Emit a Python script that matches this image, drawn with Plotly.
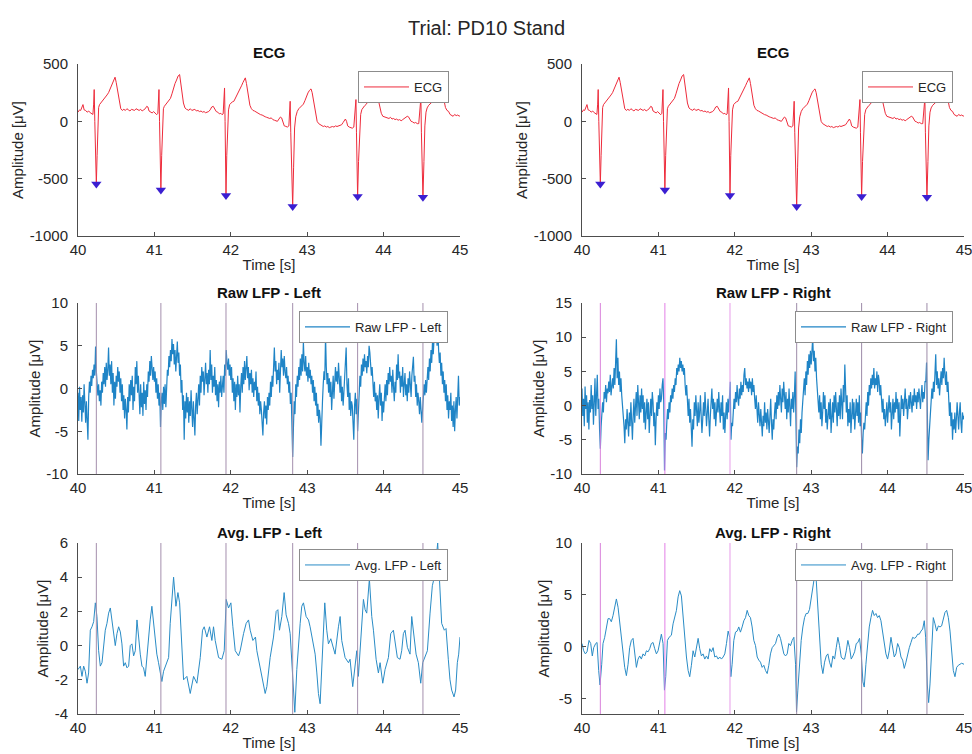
import numpy as np
import plotly.graph_objects as go

# ---------------------------------------------------------------- data
FIG_TITLE = "Trial: PD10 Stand"
X_TICKS = [40, 41, 42, 43, 44, 45]

# ECG (µV), shared by both ECG panels
ecg_t = [
    40.000, 40.020, 40.035, 40.050, 40.065, 40.080, 40.100, 40.120, 40.140, 40.160,
    40.180, 40.195, 40.205, 40.212, 40.220, 40.232, 40.240, 40.250, 40.258, 40.270,
    40.282, 40.300, 40.320, 40.340, 40.360, 40.380, 40.400, 40.420, 40.440, 40.460,
    40.475, 40.485, 40.500, 40.515, 40.530, 40.545, 40.560, 40.580, 40.600, 40.620,
    40.640, 40.660, 40.680, 40.700, 40.720, 40.740, 40.760, 40.780, 40.800, 40.820,
    40.840, 40.860, 40.880, 40.900, 40.915, 40.930, 40.950, 40.970, 40.990, 41.010,
    41.030, 41.045, 41.055, 41.060, 41.067, 41.075, 41.085, 41.095, 41.105, 41.118,
    41.130, 41.150, 41.170, 41.190, 41.210, 41.230, 41.250, 41.270, 41.290, 41.310,
    41.330, 41.345, 41.360, 41.380, 41.400, 41.420, 41.450, 41.470, 41.490, 41.510,
    41.530, 41.550, 41.570, 41.590, 41.610, 41.630, 41.650, 41.670, 41.690, 41.710,
    41.730, 41.750, 41.770, 41.790, 41.810, 41.830, 41.850, 41.870, 41.885, 41.900,
    41.910, 41.918, 41.925, 41.930, 41.937, 41.947, 41.958, 41.970, 41.985, 42.000,
    42.020, 42.040, 42.060, 42.080, 42.100, 42.120, 42.140, 42.160, 42.180, 42.190,
    42.205, 42.220, 42.235, 42.250, 42.270, 42.290, 42.310, 42.330, 42.350, 42.370,
    42.390, 42.410, 42.430, 42.450, 42.470, 42.490, 42.510, 42.530, 42.550, 42.570,
    42.590, 42.610, 42.630, 42.650, 42.665, 42.680, 42.700, 42.720, 42.740, 42.760,
    42.770, 42.777, 42.785, 42.795, 42.810, 42.822, 42.835, 42.850, 42.870, 42.890,
    42.910, 42.930, 42.950, 42.970, 42.990, 43.010, 43.030, 43.050, 43.065, 43.080,
    43.100, 43.120, 43.130, 43.150, 43.170, 43.190, 43.210, 43.230, 43.250, 43.270,
    43.290, 43.310, 43.330, 43.350, 43.370, 43.390, 43.410, 43.430, 43.450, 43.470,
    43.490, 43.500, 43.515, 43.530, 43.550, 43.570, 43.590, 43.610, 43.625, 43.638,
    43.645, 43.652, 43.660, 43.672, 43.685, 43.700, 43.715, 43.730, 43.750, 43.770,
    43.790, 43.810, 43.830, 43.850, 43.870, 43.890, 43.910, 43.930, 43.950, 43.970,
    43.990, 44.010, 44.030, 44.050, 44.070, 44.090, 44.110, 44.130, 44.150, 44.170,
    44.190, 44.210, 44.230, 44.250, 44.270, 44.290, 44.310, 44.325, 44.340, 44.360,
    44.380, 44.400, 44.420, 44.440, 44.460, 44.475, 44.488, 44.495, 44.502, 44.515,
    44.528, 44.540, 44.555, 44.570, 44.590, 44.610, 44.630, 44.650, 44.670, 44.690,
    44.710, 44.730, 44.750, 44.760, 44.775, 44.790, 44.810, 44.830, 44.850, 44.870,
    44.890, 44.910, 44.930, 44.950, 44.970, 44.990, 45.000,
]
ecg_v = [
    80, 100, 95, 130, 146, 100, 95, 80, 90, 75,
    70, 60, 150, 277, 0, -400, -546, -300, -44, 120,
    146, 160, 180, 195, 210, 230, 250, 280, 320, 350,
    375, 385, 340, 280, 200, 140, 110, 95, 105, 95,
    110, 100, 90, 105, 100, 95, 110, 100, 95, 105,
    90, 100, 110, 131, 125, 90, 80, 73, 85, 70,
    58, 70, 200, 277, 0, -400, -598, -300, -44, 110,
    131, 150, 170, 185, 200, 240, 290, 330, 360, 395,
    408, 330, 260, 160, 117, 105, 96, 110, 95, 100,
    105, 90, 95, 85, 90, 80, 85, 75, 80, 85,
    100, 125, 131, 110, 85, 80, 65, 70, 58, 65,
    200, 291, 0, -450, -647, -300, -44, 100, 146, 160,
    170, 175, 200, 225, 250, 277, 310, 340, 370, 379,
    330, 270, 200, 140, 110, 95, 90, 80, 70, 65,
    58, 55, 45, 40, 35, 30, 25, 30, 15, 10,
    5, 0, 20, 38, 30, -10, -40, -44, -50, -40,
    80, 175, -100, -450, -743, -400, -58, 40, 87, 110,
    125, 131, 150, 180, 220, 248, 270, 283, 250, 190,
    100, 20, 0, -20, -29, -40, -45, -40, -50, -45,
    -55, -50, -45, -50, -40, -45, -40, -35, -30, -10,
    15, 20, 0, -40, -50, -58, -60, -50, 60, 190,
    -100, -450, -656, -350, -60, 60, 102, 120, 135, 146,
    170, 195, 215, 230, 245, 262, 250, 190, 120, 70,
    44, 40, 35, 30, 25, 35, 20, 25, 15, 20,
    10, 15, 5, 15, 25, 30, 44, 40, 20, 0,
    -5, -15, -10, -20, -20, 80, 204, -100, -450, -662,
    -350, -40, 80, 117, 140, 155, 165, 175, 190, 210,
    235, 260, 280, 283, 240, 170, 120, 95, 87, 60,
    55, 44, 60, 50, 55, 45, 50,
]

# detected R peaks (time in s, ECG trough in µV)
r_peak_t = [40.240, 41.085, 41.937, 42.810, 43.660, 44.515]
r_peak_v = [-546, -598, -647, -743, -656, -662]

# raw LFP, sampled every 10 ms from 40.00 s to 45.00 s (µV)
raw_left = [
    -0.5, -3.8, 0.2, -2.5, -1.0, -3.9, -0.8, -2.8, 0.5, -2.2,
    -4.0, -1.5, -3.2, -6.0, -1.0, 0.8, -0.5, 1.5, 0.3, 2.2,
    1.2, 2.8, 1.5, 4.9, 2.0, 0.2, -0.8, 0.5, -1.5, -0.2,
    -2.0, 0.8, -0.5, 1.8, 0.5, 2.5, 0.2, 3.0, 1.0, 2.2,
    4.8, 1.5, 2.8, 0.5, 3.2, -0.5, 1.8, -2.0, 0.8, -1.2,
    1.5, 0.2, 2.5, 0.8, 2.0, -0.5, 1.2, -1.5, 0.5, -2.5,
    -0.8, -3.5, -1.2, -2.5, -4.8, -1.0, -2.8, 0.5, -1.5, 1.0,
    -0.8, 1.5, -2.5, 0.2, -1.5, 2.5, 0.5, 3.2, -0.5, 1.5,
    -1.0, -3.0, 0.5, -2.2, -0.5, -3.2, 0.8, -1.8, -0.2, -2.5,
    0.5, -1.0, 2.0, 0.8, 3.2, 1.5, 3.8, 2.2, 1.0, 2.5,
    0.8, 2.0, -0.5, 1.2, -1.2, 0.5, -2.0, -0.5, -4.5, -1.5,
    -0.5, -2.5, 0.2, -1.8, 0.5, -2.2, 0.8, 2.2, 1.5, 3.8,
    2.5, 4.5, 3.2, 5.8, 4.0, 5.2, 2.8, 4.5, 2.0, 3.5,
    5.5, 3.0, 4.2, 1.5, 2.8, -0.5, 1.0, -2.5, -0.8, -6.0,
    -1.5, -3.5, -0.5, -2.8, -1.0, -4.0, -1.5, -3.2, -0.2, -2.5,
    -4.5, -1.5, -3.0, -5.5, -2.0, -0.5, -3.0, -1.2, 0.5, -2.0,
    1.5, -0.5, 2.5, 0.8, 2.0, -0.8, 1.2, 3.0, 0.5, 1.8,
    -0.5, 2.2, 0.5, 4.5, 1.0, 2.8, -0.5, 1.5, 0.2, 2.5,
    -0.8, 1.0, -1.5, 0.5, -2.2, 0.8, -0.5, 1.5, -1.0, 0.2,
    1.5, -0.5, 2.8, 1.5, 4.5, 3.0, 2.2, 3.5, 1.5, 2.8,
    1.0, 2.5, -0.5, 1.2, -1.5, 0.8, -2.5, 0.5, -1.0, 1.5,
    -0.8, 0.5, -2.8, 0.2, 1.8, -0.5, 2.5, 0.5, 3.2, 1.0,
    2.0, 3.8, 1.2, 2.5, -0.2, 1.8, 0.5, 2.2, -0.5, 1.2,
    -1.0, 0.8, -0.2, 2.0, -1.5, 0.2, -2.0, -0.5, -3.0, -1.5,
    -2.5, -4.0, -5.5, -2.8, -1.5, -3.5, -2.0, -4.2, -1.0, -2.5,
    -0.5, -2.0, 0.8, -1.0, 1.5, 0.2, 2.5, 4.8, 2.0, 3.2,
    0.5, 2.2, 1.0, 3.0, -0.5, 2.0, 4.5, 2.5, 3.5, 1.5,
    3.8, 2.0, 1.2, 2.5, 0.5, 1.5, -0.5, 0.8, -1.8, -0.5,
    -3.5, -8.0, -4.5, -1.5, -3.0, 0.5, -1.0, 1.5, 0.2, 2.5,
    1.0, 3.5, 1.5, 4.0, 2.0, 5.5, 3.0, 2.0, 3.8, 1.5,
    2.5, 0.8, 3.0, 1.2, 2.2, 0.5, 1.5, -0.5, 1.0, -1.5,
    0.2, -2.0, -0.5, -3.2, -1.8, -4.0, -2.5, -3.5, -6.7, -3.0,
    -1.5, 0.5, 2.0, 1.0, 6.2, 2.5, 0.5, 1.8, -0.5, 1.2,
    -1.0, 0.8, -2.5, -0.5, 1.5, -1.2, 0.5, 2.5, 0.8, 2.0,
    0.5, 3.0, 1.2, -0.5, 1.5, -1.5, 0.2, -2.0, -0.5, 1.0,
    2.5, 4.8, 0.5, -1.0, 1.2, -2.5, -0.5, -3.2, -1.5, -2.0,
    -4.0, -6.0, -2.0, -0.5, -3.0, -1.2, -5.0, -2.2, 0.5, 1.5,
    0.2, 2.8, 1.5, 3.5, 2.0, 4.0, 2.5, 3.2, 1.8, 3.8,
    2.5, 5.0, 4.2, 3.0, 1.5, 2.5, 0.5, -1.0, 0.8, -1.5,
    -0.5, -2.5, -0.8, -3.5, -1.0, 0.5, -2.0, -0.5, -3.8, -1.5,
    -2.8, -0.5, 0.5, -1.5, 1.0, -0.8, 1.8, 0.5, 2.5, 0.8,
    1.5, -0.5, 2.2, 0.2, -1.5, 0.8, -0.5, 2.8, 1.0, 4.0,
    1.2, 2.0, -0.5, 1.5, 0.2, 2.5, -1.0, 0.5, 1.8, -0.8,
    0.5, -1.5, 1.2, -0.5, 2.0, 0.5, -1.0, 1.5, 3.0, 3.7,
    0.8, 1.5, -1.0, 0.5, -2.0, -0.5, -1.5, -3.0, -1.0, -2.2,
    -4.0, -2.5, -1.0, 0.5, -0.8, 1.0, -0.5, 0.8, 2.5, 1.0,
    3.5, 2.0, 4.5, 3.0, 5.5, 4.0, 6.5, 7.5, 5.5, 6.8,
    5.0, 7.2, 4.5, 3.0, 4.2, 1.5, 3.0, 0.5, 2.0, -0.5,
    1.0, -1.5, 0.5, -2.5, -0.8, -3.5, -1.5, -2.5, -0.5, -3.8,
    -2.0, -4.5, -1.5, -5.0, -2.5, -1.0, -3.5, -1.5, 1.5, -2.0,
    -1.0,
]
raw_right = [
    2.5, -1.5, 1.0, -3.0, 2.8, -0.5, 1.5, -2.5, 0.5, -3.5,
    0.8, -1.0, 3.0, -0.5, 1.5, -2.8, 0.5, 4.0, -1.5, 2.0,
    4.5, -0.5, 1.0, -3.5, -6.3, -3.0, -1.5, 0.5, -1.0, 2.0,
    1.0, 3.0, 0.5, 2.5, 1.8, 3.5, 2.0, 4.5, 1.5, 3.0,
    4.0, 2.5, 5.5, 3.0, 6.5, 9.7, 4.0, 7.0, 3.0, 5.0,
    2.0, 4.0, 1.5, 0.5, -1.5, -3.0, -5.5, -2.0, -3.5, -0.5,
    -2.5, -4.5, -1.0, -3.0, 0.5, -2.0, -5.0, -1.5, 1.0, -2.5,
    -0.5, 2.0, -1.5, 3.0, 0.5, -2.0, 1.5, -1.0, 2.5, -0.5,
    1.5, -2.5, 0.5, -3.5, -1.0, 1.0, -2.0, 0.5, -4.0, -1.0,
    1.0, -1.5, 2.0, 0.5, -3.0, -1.0, -5.8, -2.0, 0.5, -1.5,
    1.5, -0.5, 2.5, 0.5, 1.0, 3.0, 4.0, 0.5, -9.5, -4.0,
    -5.0, -2.5, -0.5, -2.0, 0.5, -1.0, 1.5, 0.5, 2.5, 1.0,
    3.0, 2.0, 4.0, 3.0, 5.5, 4.5, 6.0, 5.0, 7.0, 5.5,
    6.5, 5.0, 6.0, 4.5, 5.5, 3.0, 1.5, 3.0, 0.5, -1.5,
    1.0, -2.5, -0.5, -4.0, -6.0, -2.0, -3.5, 0.5, -1.5, 1.5,
    -1.0, -3.0, 0.5, -2.5, -1.0, 1.5, -1.5, -4.0, -2.0, 0.5,
    -1.5, 2.0, -0.5, -3.0, -1.0, 1.0, -2.0, -4.5, -1.5, 0.5,
    2.5, -0.5, 1.0, -2.0, 0.5, -3.0, -1.5, 1.0, -1.0, 2.0,
    -0.5, -2.5, 0.5, -1.5, 1.5, -3.5, -1.0, -4.0, -1.5, 0.5,
    -2.0, 1.0, -1.0, 0.5, 3.5, -5.0, -2.5, -3.0, -0.5, 1.0,
    -0.5, 2.0, 0.5, 3.0, 1.0, 0.0, 2.5, 1.0, 3.5, 1.5,
    3.0, 2.0, 4.5, 5.5, 3.0, 4.0, 2.5, 3.5, 2.0, 4.0,
    2.5, 3.5, 1.5, 4.0, 2.0, 3.0, 1.0, -0.5, 1.5, -1.0,
    -2.5, 0.5, -1.5, -3.0, -0.5, -2.0, -4.5, -1.5, -3.0, 0.5,
    -2.5, -1.0, -3.5, -0.5, -2.0, -4.0, -1.5, 1.0, -2.5, -5.0,
    -2.0, -3.5, -1.0, 0.5, -2.0, 1.5, -0.5, 2.0, 0.0, 3.0,
    1.0, -1.0, 2.5, 0.5, 3.5, 1.0, -0.5, 2.0, -2.0, 1.0,
    -1.0, 2.5, 0.0, -3.0, 1.0, -0.5, 2.0, -1.0, 1.5, 5.0,
    -2.0, -9.0, -6.0, -7.0, -3.5, -5.5, -2.0, -4.0, -1.0, 1.5,
    2.5, 4.0, 1.5, 5.0, 3.0, 6.5, 4.5, 7.5, 5.5, 8.0,
    6.0, 7.5, 10.0, 6.5, 8.0, 5.0, 7.0, 4.0, 2.0, 0.5,
    -1.0, 1.5, -2.0, 0.5, -3.0, -1.0, 2.0, -0.5, 1.5, -2.5,
    -0.5, -3.5, -1.5, 0.5, -2.0, 1.0, -4.0, -1.0, 0.5, -2.5,
    1.5, -1.0, 2.0, -0.5, -3.0, 0.5, -1.5, 1.5, -2.0, 2.5,
    0.0, -2.0, 3.0, 0.5, 6.0, 2.0, -1.0, 1.5, -3.0, -0.5,
    -2.5, 0.5, -4.0, -1.5, 1.0, -2.0, 0.5, -3.5, -1.0, 1.0,
    -1.5, 0.5, -2.5, 1.5, -3.0, -1.0, -5.0, -7.0, -4.0, -2.5,
    -3.5, -1.0, 0.5, -1.5, 2.0, 0.0, 3.0, 1.5, 4.0, 2.5,
    4.5, 3.0, 5.5, 2.5, 4.0, 3.0, 5.0, 2.0, 4.5, 3.5,
    1.5, 3.0, 0.5, -1.0, 1.0, -2.0, -0.5, -3.0, -1.5, 0.5,
    -2.5, -0.5, 1.5, -1.0, 0.5, -3.5, -1.5, 1.0, -2.0, 0.5,
    -1.0, 2.0, -0.5, 1.0, -2.5, 0.5, -4.5, -1.0, 1.5, -0.5,
    1.0, -1.5, 0.5, 2.5, -0.5, 1.0, -2.0, 0.0, 1.5, -0.5,
    2.0, 0.5, -1.0, 1.5, 0.0, 2.5, 0.5, 1.5, -0.5, 2.0,
    0.5, 2.5, 1.0, -0.5, 1.5, 3.0, 0.5, 2.0, 1.0, 3.5,
    3.5, 6.3, -1.0, -8.0, -5.0, -3.0, -1.0, 0.5, 2.5, 1.0,
    3.5, 2.0, 4.5, 7.5, 3.0, 5.0, 2.5, 4.0, 1.5, 3.5,
    5.0, 3.0, 5.5, 4.0, 7.0, 4.5, 3.0, 5.0, 2.0, 3.5,
    1.0, -1.5, 0.5, -3.0, -1.0, -5.0, -2.0, -3.5, -1.0, -4.0,
    -2.0, 0.5, -1.5, -3.5, -1.0, 0.5, -2.5, -4.0, -1.0, -2.0,
    -1.5,
]
raw_t = np.round(40.0 + 0.01 * np.arange(len(raw_left)), 2)

# averaged LFP (µV)
avg_left_t = [
    40.000, 40.031, 40.052, 40.074, 40.096, 40.118, 40.139, 40.161, 40.183, 40.205,
    40.227, 40.248, 40.270, 40.292, 40.314, 40.336, 40.357, 40.379, 40.401, 40.423,
    40.445, 40.466, 40.488, 40.510, 40.532, 40.554, 40.575, 40.597, 40.619, 40.641,
    40.663, 40.684, 40.706, 40.728, 40.750, 40.772, 40.793, 40.815, 40.837, 40.858,
    40.880, 40.902, 40.924, 40.945, 40.967, 40.989, 41.010, 41.032, 41.054, 41.077,
    41.098, 41.120, 41.164, 41.186, 41.207, 41.251, 41.282, 41.308, 41.330, 41.360,
    41.382, 41.425, 41.469, 41.513, 41.556, 41.600, 41.630, 41.652, 41.687, 41.722,
    41.752, 41.774, 41.796, 41.840, 41.883, 41.914, 41.940, 41.970, 42.001, 42.027,
    42.058, 42.101, 42.123, 42.167, 42.201, 42.232, 42.254, 42.289, 42.323, 42.341,
    42.385, 42.428, 42.450, 42.472, 42.515, 42.559, 42.594, 42.616, 42.637, 42.668,
    42.698, 42.724, 42.755, 42.777, 42.799, 42.820, 42.838, 42.864, 42.886, 42.908,
    42.929, 42.951, 42.986, 43.017, 43.038, 43.082, 43.104, 43.126, 43.147, 43.169,
    43.191, 43.213, 43.230, 43.256, 43.278, 43.309, 43.344, 43.365, 43.409, 43.431,
    43.452, 43.496, 43.540, 43.561, 43.596, 43.618, 43.649, 43.670, 43.701, 43.736,
    43.758, 43.779, 43.814, 43.845, 43.867, 43.902, 43.932, 43.954, 43.989, 44.019,
    44.063, 44.093, 44.128, 44.150, 44.180, 44.215, 44.237, 44.259, 44.281, 44.311,
    44.346, 44.368, 44.390, 44.425, 44.455, 44.486, 44.512, 44.542, 44.573, 44.608,
    44.638, 44.664, 44.695, 44.708, 44.730, 44.760, 44.795, 44.817, 44.847, 44.869,
    44.891, 44.922, 44.943, 44.965, 44.983, 45.000,
]
avg_left_v = [
    -1.4, -1.2, -1.8, -1.2, -1.5, -2.2, -1.6, 0.9, 1.1, 1.4,
    2.5, 1.7, -0.3, -1.2, -1.0, 0.1, 0.9, 1.3, 1.9, 2.2,
    1.4, 0.5, 0.0, 0.7, 1.1, 0.8, 0.1, -1.2, -1.0, -1.3,
    -1.2, 0.0, 0.1, -0.6, -0.3, 1.5, 0.3, -0.5, -1.2, -1.3,
    -1.8, -0.5, 0.5, 1.5, 2.3, 1.3, 0.2, -0.5, -1.0, -1.5,
    -2.1, -1.5, -0.9, -0.7, 1.3, 4.0, 2.3, 3.1, 2.5, -0.7,
    -2.0, -1.8, -2.8, -1.8, -2.2, -0.7, 0.9, 1.1, 0.5, 1.1,
    0.3, 1.1, 0.3, -0.7, -0.8, -0.3, 2.7, 2.2, 2.5, 1.1,
    -0.3, -0.6, -0.3, 0.7, 1.3, 1.5, 0.9, 0.3, 0.5, -0.3,
    -1.4, -2.4, -2.8, -2.4, -0.7, 0.5, 2.0, 2.1, 0.9, 1.7,
    3.1, 1.8, 1.3, 0.7, -1.0, -3.2, -3.9, -1.4, 0.3, 1.3,
    2.3, 2.5, 1.7, 1.5, 1.1, 0.1, -0.5, -1.6, -2.8, -3.4,
    -1.0, 1.3, 2.5, 0.9, 0.1, 0.4, -0.1, -0.5, 1.1, 1.7,
    0.3, -0.7, -1.0, -0.8, -2.4, -1.6, -0.3, -1.8, 0.1, 2.7,
    2.1, 1.9, 3.9, 1.7, 0.9, -0.8, -1.6, -1.0, -2.2, -1.4,
    -0.7, 0.7, 0.9, 0.3, -0.7, -0.8, -0.3, 0.7, 0.9, -0.1,
    -0.5, 1.7, 0.9, -0.5, -1.0, -2.2, -1.0, -0.7, -0.3, 1.9,
    3.5, 4.0, 5.6, 6.0, 4.0, 1.3, 0.9, 1.0, -0.8, -2.0,
    -2.6, -3.0, -2.6, -1.0, -0.5, 0.5,
]

avg_right_t = [
    40.000, 40.022, 40.044, 40.066, 40.092, 40.114, 40.135, 40.153, 40.179, 40.197,
    40.218, 40.236, 40.258, 40.275, 40.297, 40.319, 40.341, 40.362, 40.384, 40.406,
    40.428, 40.450, 40.472, 40.493, 40.515, 40.537, 40.559, 40.581, 40.603, 40.624,
    40.646, 40.668, 40.690, 40.712, 40.734, 40.755, 40.777, 40.799, 40.821, 40.843,
    40.865, 40.886, 40.908, 40.930, 40.952, 40.974, 40.996, 41.017, 41.039, 41.061,
    41.079, 41.096, 41.118, 41.140, 41.170, 41.192, 41.214, 41.236, 41.258, 41.279,
    41.301, 41.323, 41.345, 41.367, 41.389, 41.410, 41.432, 41.454, 41.476, 41.498,
    41.520, 41.541, 41.563, 41.585, 41.607, 41.629, 41.651, 41.672, 41.694, 41.716,
    41.738, 41.760, 41.782, 41.803, 41.825, 41.847, 41.869, 41.891, 41.913, 41.934,
    41.948, 41.965, 41.987, 42.009, 42.031, 42.052, 42.074, 42.096, 42.118, 42.140,
    42.162, 42.183, 42.205, 42.227, 42.249, 42.271, 42.293, 42.314, 42.336, 42.358,
    42.380, 42.402, 42.424, 42.445, 42.467, 42.489, 42.511, 42.533, 42.555, 42.576,
    42.598, 42.620, 42.642, 42.664, 42.686, 42.707, 42.729, 42.751, 42.773, 42.795,
    42.808, 42.825, 42.847, 42.869, 42.891, 42.913, 42.934, 42.956, 42.978, 43.000,
    43.022, 43.044, 43.066, 43.087, 43.109, 43.131, 43.153, 43.175, 43.197, 43.218,
    43.240, 43.262, 43.284, 43.306, 43.328, 43.349, 43.371, 43.393, 43.415, 43.437,
    43.459, 43.480, 43.502, 43.524, 43.546, 43.568, 43.590, 43.611, 43.633, 43.655,
    43.677, 43.694, 43.716, 43.738, 43.760, 43.782, 43.803, 43.825, 43.847, 43.869,
    43.891, 43.913, 43.934, 43.956, 43.978, 44.000, 44.022, 44.044, 44.066, 44.087,
    44.109, 44.131, 44.153, 44.175, 44.197, 44.218, 44.240, 44.262, 44.284, 44.306,
    44.328, 44.349, 44.371, 44.393, 44.415, 44.437, 44.459, 44.480, 44.498, 44.520,
    44.537, 44.555, 44.576, 44.598, 44.620, 44.642, 44.664, 44.686, 44.707, 44.729,
    44.751, 44.773, 44.795, 44.817, 44.838, 44.860, 44.882, 44.904, 44.926, 44.948,
    44.969, 45.000,
]
avg_right_v = [
    0.3, -0.4, -0.7, -0.5, 0.6, 0.3, -0.9, -0.1, 0.3, 0.4,
    -2.3, -3.7, -1.7, 0.3, 0.9, 1.9, 2.7, 2.7, 2.4, 3.0,
    3.8, 4.6, 3.8, 2.4, 0.9, -0.4, -2.0, -2.8, -1.7, -0.1,
    0.6, 0.8, -0.7, -2.0, -1.2, -0.9, -1.2, -0.7, -0.9, -0.4,
    -0.5, -0.2, 0.3, 0.4, -0.2, -0.7, -0.4, 0.6, 1.2, 0.3,
    -4.2, -2.9, 0.6, 0.9, 1.1, 2.2, 2.8, 3.5, 4.8, 5.4,
    4.9, 2.8, 0.6, -1.0, -2.3, -2.9, -1.8, -0.4, -1.0, -0.1,
    0.8, -0.2, -0.9, -0.7, -1.2, -0.9, -1.2, -0.2, -0.5, -0.1,
    -1.0, -0.9, -1.2, -1.0, -1.2, -1.0, -0.7, 0.3, 1.5, 0.9,
    -2.9, -1.7, 0.6, 1.4, 1.5, 1.9, 1.4, 1.9, 2.5, 2.8,
    3.5, 3.0, 2.8, 1.9, 0.6, 0.1, -1.0, -1.3, -1.5, -2.0,
    -1.8, -2.3, -2.6, -1.8, -0.7, -0.1, 0.1, 0.3, 0.9, 1.2,
    0.8, 0.1, -0.7, -0.9, -0.7, 0.3, 0.1, 0.6, 0.9, -1.7,
    -6.3, -4.2, -1.7, 0.6, 1.9, 2.8, 3.2, 3.2, 3.6, 4.8,
    6.0, 6.8, 6.4, 3.8, 0.6, -1.7, -2.6, -1.5, -0.9, -0.7,
    -1.5, -2.0, -0.9, -1.2, -0.1, 0.9, 0.1, -1.0, -1.2, -1.2,
    -0.4, 0.6, -0.1, -1.2, -0.9, -0.5, 0.3, 0.4, 0.8, -0.7,
    -3.4, -3.9, -1.7, 0.6, 1.9, 2.8, 3.5, 3.0, 3.2, 2.8,
    3.0, 2.5, 1.5, 0.3, -0.7, -1.2, -0.4, 0.9, 0.1, -1.0,
    -0.7, 0.3, -0.1, -1.0, -1.3, -2.1, -1.5, -0.7, -0.1, 0.4,
    0.9, 0.8, 0.9, 1.2, 1.2, 1.5, 1.7, 2.5, 0.9, -3.7,
    -5.4, -3.6, -0.1, 2.8, 2.2, 1.5, 2.0, 1.9, 2.0, 2.8,
    3.3, 3.5, 2.8, 1.5, -0.4, -2.3, -2.9, -2.0, -1.8, -1.7,
    -1.6, -1.7,
]

# ---------------------------------------------------------------- style
FONT = "Liberation Sans, Arial, Helvetica, sans-serif"
AXIS_COL = "#4d4d4d"
TEXT_COL = "#262626"
ECG_COL = "#ee2b3b"
PEAK_COL = "#3b1fd1"
LFP_COL = "#1f84c6"
AVG_COL = "#2a8cc6"
RLINE_LEFT = ["#a48fad"] * 6
RLINE_RIGHT = ["#d880da", "#e27fe6", "#e79ce9", "#9d8ba8", "#9d8ba8", "#9d8ba8"]

W, H = 972, 754
X_DOM = [[78 / W, 460 / W], [582 / W, 964 / W]]
Y_DOM = [[1 - 236 / H, 1 - 64 / H], [1 - 474 / H, 1 - 303 / H], [1 - 714 / H, 1 - 543 / H]]

panels = [
    # row, col, title, legend label, x data, y data, colour, width, y range, y ticks
    (0, 0, "ECG", "ECG", ecg_t, ecg_v, ECG_COL, 1.0, [-1000, 500], [-1000, -500, 0, 500]),
    (0, 1, "ECG", "ECG", ecg_t, ecg_v, ECG_COL, 1.0, [-1000, 500], [-1000, -500, 0, 500]),
    (1, 0, "Raw LFP - Left", "Raw LFP - Left", raw_t, raw_left, LFP_COL, 1.2, [-10, 10],
     [-10, -5, 0, 5, 10]),
    (1, 1, "Raw LFP - Right", "Raw LFP - Right", raw_t, raw_right, LFP_COL, 1.2, [-10, 15],
     [-10, -5, 0, 5, 10, 15]),
    (2, 0, "Avg. LFP - Left", "Avg. LFP - Left", avg_left_t, avg_left_v, AVG_COL, 1.0,
     [-4, 6], [-4, -2, 0, 2, 4, 6]),
    (2, 1, "Avg. LFP - Right", "Avg. LFP - Right", avg_right_t, avg_right_v, AVG_COL, 1.0,
     [-6.5, 10], [-5, 0, 5, 10]),
]


def tick_text(values):
    # plain hyphen-minus for negative labels
    return [str(v) for v in values]


fig = go.Figure()
layout = dict(
    width=W, height=H,
    margin=dict(l=0, r=0, t=0, b=0, autoexpand=False),
    paper_bgcolor="white", plot_bgcolor="white",
    font=dict(family=FONT, color=TEXT_COL),
    annotations=[], shapes=[],
)

# legend boxes: right edge / top edge in pixels
legend_pos = {(0, 0): (449, 71), (0, 1): (953, 71), (1, 0): (448, 311),
              (1, 1): (953, 311), (2, 0): (448, 549), (2, 1): (953, 549)}

for i, (row, col, title, label, xs, ys, colour, lw, yrange, yticks) in enumerate(panels):
    n = i + 1
    xa = "x" if n == 1 else f"x{n}"
    ya = "y" if n == 1 else f"y{n}"
    lg = "legend" if n == 1 else f"legend{n}"

    fig.add_trace(go.Scatter(
        x=xs, y=ys, mode="lines", name=label,
        line=dict(color=colour, width=lw),
        xaxis=xa, yaxis=ya, legend=lg, showlegend=True, hoverinfo="skip",
    ))

    axis_common = dict(
        showline=True, linecolor=AXIS_COL, linewidth=1,
        ticks="inside", ticklen=4, tickcolor=AXIS_COL, tickwidth=1,
        showgrid=False, zeroline=False, mirror=False, automargin=False,
        ticklabeloverflow="allow",
        tickfont=dict(size=15, color=TEXT_COL, family=FONT),
        title_font=dict(size=15, color=TEXT_COL, family=FONT),
    )
    layout["xaxis" if n == 1 else f"xaxis{n}"] = dict(
        axis_common, domain=X_DOM[col], anchor=ya, range=[40, 45],
        tickvals=X_TICKS, ticktext=tick_text(X_TICKS),
        title=dict(text="Time [s]", standoff=2),
    )
    layout["yaxis" if n == 1 else f"yaxis{n}"] = dict(
        axis_common, domain=Y_DOM[row], anchor=xa, range=yrange,
        tickvals=yticks, ticktext=tick_text(yticks),
        title=dict(text="Amplitude [μV]", standoff=2),
        ticklabelstandoff=6,
    )

    rx, ty = legend_pos[(row, col)]
    layout[lg] = dict(
        x=rx / W, y=1 - ty / H, xanchor="right", yanchor="top",
        bgcolor="white", bordercolor="#8c8c8c", borderwidth=1,
        font=dict(size=13, color=TEXT_COL, family=FONT),
        itemwidth=45, tracegroupgap=0,
    )

    # panel title
    title_y = [52, 292, 532][row]
    layout["annotations"].append(dict(
        text=title, x=sum(X_DOM[col]) / 2, y=1 - title_y / H,
        xref="paper", yref="paper", xanchor="center", yanchor="middle",
        showarrow=False, font=dict(size=15, color="#111111", family=FONT, weight="bold"),
    ))

    if row == 0:
        fig.add_trace(go.Scatter(
            x=r_peak_t, y=r_peak_v, mode="markers", showlegend=False,
            marker=dict(symbol="triangle-down", size=9, color=PEAK_COL),
            xaxis=xa, yaxis=ya, hoverinfo="skip",
        ))
    else:
        colours = RLINE_LEFT if col == 0 else RLINE_RIGHT
        for tp, c in zip(r_peak_t, colours):
            layout["shapes"].append(dict(
                type="line", xref=xa, yref=f"{ya} domain", x0=tp, x1=tp, y0=0, y1=1,
                line=dict(color=c, width=1), layer="above",
            ))

layout["annotations"].append(dict(
    text=FIG_TITLE, x=0.5, y=1 - 28 / H, xref="paper", yref="paper",
    xanchor="center", yanchor="middle", showarrow=False,
    font=dict(size=20, color=TEXT_COL, family=FONT),
))

fig.update_layout(**layout)
fig.write_html("out.html")
